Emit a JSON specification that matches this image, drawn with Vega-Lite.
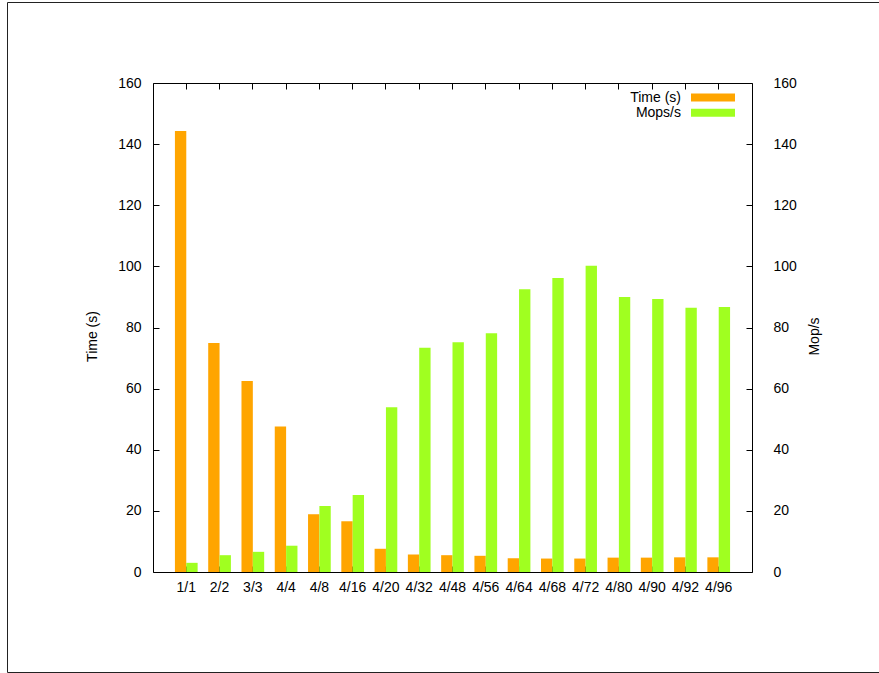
{
  "$schema": "https://vega.github.io/schema/vega-lite/v6.json",
  "autosize": {"type": "none"},
  "width": 599,
  "height": 489,
  "padding": {"left": 153, "top": 83, "right": 127, "bottom": 101},
  "background": "white",
  "config": {
    "font": "Liberation Sans",
    "view": {"stroke": "black", "strokeWidth": 1},
    "axis": {
      "domain": false,
      "grid": false,
      "tickColor": "black",
      "tickSize": -6,
      "tickWidth": 1,
      "labelColor": "black",
      "labelFontSize": 14,
      "labelFont": "Liberation Sans",
      "titleFont": "Liberation Sans",
      "titleFontSize": 14,
      "titleFontWeight": "normal",
      "titleColor": "black"
    },
    "legend": {
      "labelFont": "Liberation Sans",
      "labelFontSize": 14,
      "labelColor": "black"
    }
  },
  "data": {
    "values": [
      {"cat": "1/1", "series": "Time (s)", "value": 144.3},
      {"cat": "2/2", "series": "Time (s)", "value": 74.9},
      {"cat": "3/3", "series": "Time (s)", "value": 62.5},
      {"cat": "4/4", "series": "Time (s)", "value": 47.6},
      {"cat": "4/8", "series": "Time (s)", "value": 18.9},
      {"cat": "4/16", "series": "Time (s)", "value": 16.6},
      {"cat": "4/20", "series": "Time (s)", "value": 7.6},
      {"cat": "4/32", "series": "Time (s)", "value": 5.7},
      {"cat": "4/48", "series": "Time (s)", "value": 5.5},
      {"cat": "4/56", "series": "Time (s)", "value": 5.3},
      {"cat": "4/64", "series": "Time (s)", "value": 4.5},
      {"cat": "4/68", "series": "Time (s)", "value": 4.4},
      {"cat": "4/72", "series": "Time (s)", "value": 4.4},
      {"cat": "4/80", "series": "Time (s)", "value": 4.7},
      {"cat": "4/90", "series": "Time (s)", "value": 4.7},
      {"cat": "4/92", "series": "Time (s)", "value": 4.8},
      {"cat": "4/96", "series": "Time (s)", "value": 4.8},
      {"cat": "1/1", "series": "Mops/s", "value": 3.0},
      {"cat": "2/2", "series": "Mops/s", "value": 5.5},
      {"cat": "3/3", "series": "Mops/s", "value": 6.6},
      {"cat": "4/4", "series": "Mops/s", "value": 8.6},
      {"cat": "4/8", "series": "Mops/s", "value": 21.6},
      {"cat": "4/16", "series": "Mops/s", "value": 25.2},
      {"cat": "4/20", "series": "Mops/s", "value": 53.9},
      {"cat": "4/32", "series": "Mops/s", "value": 73.4},
      {"cat": "4/48", "series": "Mops/s", "value": 75.2},
      {"cat": "4/56", "series": "Mops/s", "value": 78.1},
      {"cat": "4/64", "series": "Mops/s", "value": 92.5},
      {"cat": "4/68", "series": "Mops/s", "value": 96.2},
      {"cat": "4/72", "series": "Mops/s", "value": 100.2},
      {"cat": "4/80", "series": "Mops/s", "value": 90.0},
      {"cat": "4/90", "series": "Mops/s", "value": 89.3},
      {"cat": "4/92", "series": "Mops/s", "value": 86.5},
      {"cat": "4/96", "series": "Mops/s", "value": 86.7}
    ]
  },
  "layer": [
    {
      "layer": [
        {
          "transform": [{"filter": "datum.series === 'Time (s)'"}],
          "mark": {"type": "bar", "stroke": null},
          "encoding": {
            "x": {
              "field": "cat", "type": "nominal", "sort": null,
              "scale": {"paddingInner": 0, "paddingOuter": 0.5},
              "axis": {"orient": "bottom", "title": null, "labelAngle": 0, "labelPadding": 14}
            },
            "xOffset": {
              "field": "series", "type": "nominal",
              "scale": {"domain": ["Time (s)", "Mops/s"], "paddingInner": 0, "paddingOuter": 0.466}
            },
            "y": {
              "field": "value", "type": "quantitative",
              "scale": {"domain": [0, 160], "nice": false},
              "axis": {"orient": "left", "title": "Time (s)", "values": [0, 20, 40, 60, 80, 100, 120, 140, 160], "labelPadding": 18, "titleAngle": -90, "titleBaseline": "middle", "titleX": -61, "titleY": 253}
            },
            "color": {
              "field": "series", "type": "nominal",
              "scale": {"domain": ["Time (s)", "Mops/s"], "range": ["#ffa500", "#a0ff20"]},
              "legend": {
                "title": null,
                "orient": "none",
                "legendX": 553,
                "legendY": 7.5,
                "padding": 0,
                "symbolType": "M-4,-0.73L4,-0.73L4,0.73L-4,0.73Z",
                "symbolSize": 121,
                "symbolStrokeWidth": 0,
                "labelAlign": "right",
                "labelOffset": -39,
                "rowPadding": 1.3
              }
            }
          }
        },
        {
          "transform": [{"filter": "datum.series === 'Mops/s'"}],
          "mark": {"type": "bar", "stroke": null},
          "encoding": {
            "x": {
              "field": "cat", "type": "nominal", "sort": null,
              "scale": {"paddingInner": 0, "paddingOuter": 0.5},
              "axis": {"orient": "top", "title": null, "labels": false}
            },
            "xOffset": {
              "field": "series", "type": "nominal",
              "scale": {"domain": ["Time (s)", "Mops/s"], "paddingInner": 0, "paddingOuter": 0.466}
            },
            "y": {
              "field": "value", "type": "quantitative",
              "scale": {"domain": [0, 160], "nice": false},
              "axis": {"orient": "right", "title": "Mop/s", "values": [0, 20, 40, 60, 80, 100, 120, 140, 160], "labelPadding": 27, "titleAngle": -90, "titleBaseline": "middle", "titleX": 62, "titleY": 253}
            },
            "color": {"field": "series", "type": "nominal"}
          }
        }
      ],
      "resolve": {"scale": {"y": "independent"}, "axis": {"x": "independent"}}
    },
    {
      "data": {"values": [{"f": 0}, {"f": 1}]},
      "mark": {"type": "point", "opacity": 0},
      "encoding": {
        "x": {
          "field": "f", "type": "quantitative",
          "scale": {"domain": [0, 1], "range": [-146, 726], "nice": false, "zero": false},
          "axis": {"orient": "bottom", "offset": 100, "domain": true, "domainColor": "#222222", "domainWidth": 1, "ticks": false, "labels": false, "title": null, "grid": false}
        },
        "y": {
          "field": "f", "type": "quantitative",
          "scale": {"domain": [0, 1], "range": [589, -81], "nice": false, "zero": false},
          "axis": {"orient": "left", "offset": 146, "domain": true, "domainColor": "#222222", "domainWidth": 1, "ticks": false, "labels": false, "title": null, "grid": false}
        }
      }
    },
    {
      "data": {"values": [{"f": 0}, {"f": 1}]},
      "mark": {"type": "point", "opacity": 0},
      "encoding": {
        "x": {
          "field": "f", "type": "quantitative",
          "scale": {"domain": [0, 1], "range": [-146, 726], "nice": false, "zero": false},
          "axis": {"orient": "top", "offset": 81, "domain": true, "domainColor": "#222222", "domainWidth": 1, "ticks": false, "labels": false, "title": null, "grid": false}
        }
      }
    }
  ],
  "resolve": {"scale": {"x": "independent", "y": "independent"}}
}
